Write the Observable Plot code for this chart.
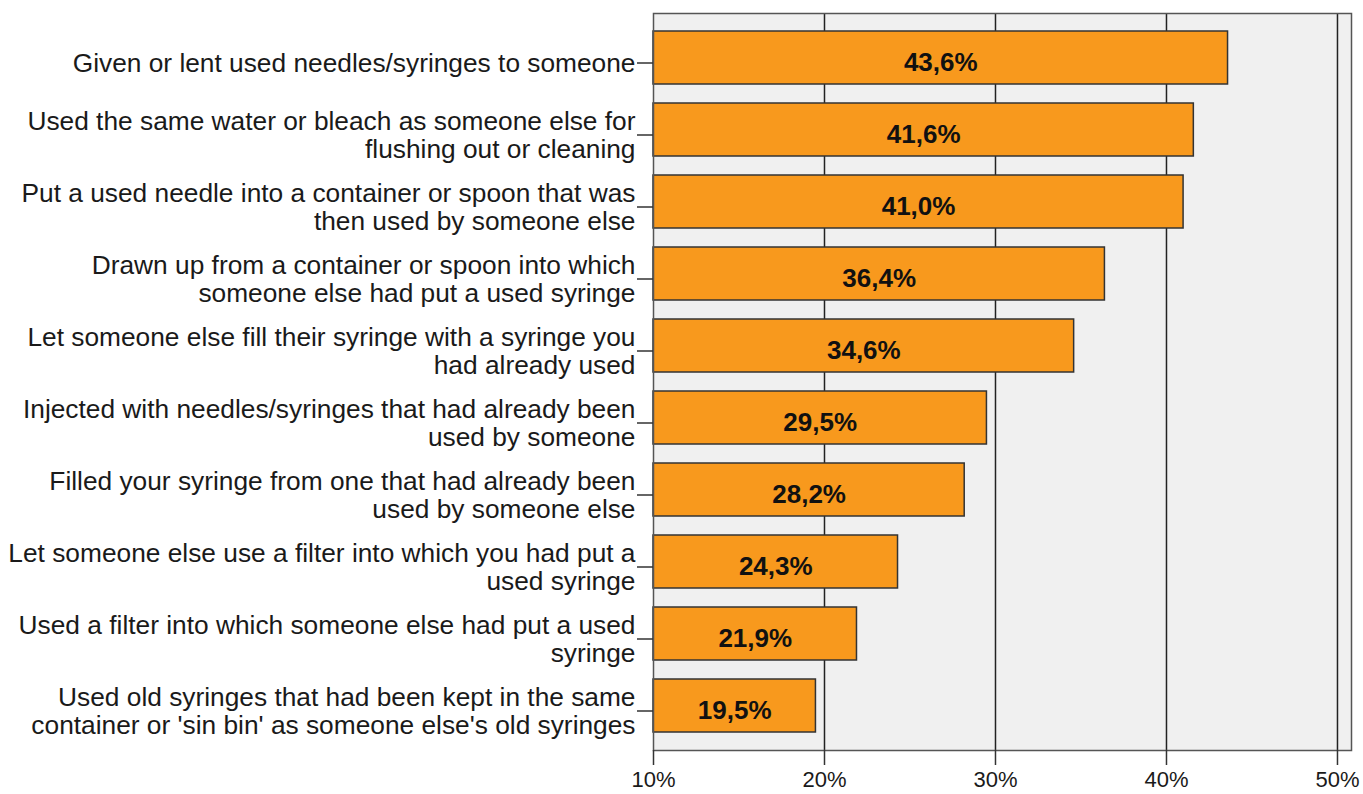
<!DOCTYPE html>
<html>
<head>
<meta charset="utf-8">
<script src="https://cdn.jsdelivr.net/npm/d3@7"></script>
<script src="https://cdn.jsdelivr.net/npm/@observablehq/plot@0.6"></script>
<style>
  html, body { margin: 0; padding: 0; background: #fff; }
  #chart svg { display: block; }
</style>
</head>
<body>
<div id="chart"></div>
<script>
const categories = [
  "Given or lent used needles/syringes to someone",
  "Used the same water or bleach as someone else for\nflushing out or cleaning",
  "Put a used needle into a container or spoon that was\nthen used by someone else",
  "Drawn up from a container or spoon into which\nsomeone else had put a used syringe",
  "Let someone else fill their syringe with a syringe you\nhad already used",
  "Injected with needles/syringes that had already been\nused by someone",
  "Filled your syringe from one that had already been\nused by someone else",
  "Let someone else use a filter into which you had put a\nused syringe",
  "Used a filter into which someone else had put a used\nsyringe",
  "Used old syringes that had been kept in the same\ncontainer or 'sin bin' as someone else's old syringes"
];
const values = [43.6, 41.6, 41.0, 36.4, 34.6, 29.5, 28.2, 24.3, 21.9, 19.5];
const xTicks = [10, 20, 30, 40, 50];
const xMax = 50.82;

const xMin = xTicks[0];
const data = categories.map((c, i) => ({label: c, value: values[i]}));
const fmt = v => v.toFixed(1).replace(".", ",") + "%";

const chart = Plot.plot({
  width: 1363,
  height: 794,
  marginLeft: 653,
  marginRight: 12,
  marginTop: 13,
  marginBottom: 44,
  style: {fontFamily: "'Liberation Sans', Arial, sans-serif", color: "#1a1a1a", background: "#fff"},
  x: {domain: [xMin, xMax]},
  y: {domain: categories, paddingInner: 0.266, paddingOuter: 0.233},
  marks: [
    Plot.frame({fill: "#f0f0f0", stroke: null}),
    Plot.ruleX(xTicks.slice(1), {stroke: "#222", strokeWidth: 1.5}),
    Plot.barX(data, {y: "label", x1: () => xMin, x2: "value", fill: "#f8991d", stroke: "#333", strokeWidth: 1.5}),
    Plot.frame({stroke: "#555", strokeWidth: 1.5}),
    Plot.text(data, {
      y: "label",
      x: d => (xMin + d.value) / 2,
      text: d => fmt(d.value),
      dy: 5,
      fontSize: 26,
      fontWeight: "bold",
      fill: "#111"
    }),
    Plot.axisY({
      tickSize: 16,
      tickPadding: 2,
      fontSize: 26.3,
      lineHeight: 1.065,
      dy: 5,
      stroke: "#333",
      strokeWidth: 1.5,
      strokeOpacity: 1,
      fill: "#1a1a1a",
      label: null
    }),
    Plot.axisX({
      ticks: xTicks,
      tickFormat: d => d + "%",
      tickSize: 15,
      tickPadding: 6,
      fontSize: 22,
      stroke: "#333",
      strokeWidth: 1.5,
      strokeOpacity: 1,
      fill: "#1a1a1a",
      label: null
    })
  ]
});
document.getElementById("chart").appendChild(chart);
</script>
</body>
</html>
